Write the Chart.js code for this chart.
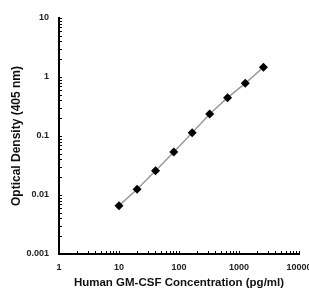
<!DOCTYPE html>
<html>
<head>
<meta charset="utf-8">
<script src="https://cdn.jsdelivr.net/npm/chart.js@4/dist/chart.umd.min.js"></script>
<style>
html,body{margin:0;padding:0;background:#fff;}
#wrap{width:309px;height:291px;position:relative;}
</style>
</head>
<body>
<div id="wrap"><canvas id="c" width="309" height="291"></canvas></div>
<script>
// Data
const concentrations = [10, 20, 40.7, 82, 166, 325, 645, 1270, 2556];
const opticalDensity = [0.0066, 0.0125, 0.0258, 0.0536, 0.114, 0.236, 0.447, 0.78, 1.46];
const xTickValues = [1, 10, 100, 1000, 10000];
const xTickLabels = ['1', '10', '100', '1000', '10000'];
const yTickValues = [0.001, 0.01, 0.1, 1, 10];
const yTickLabels = ['0.001', '0.01', '0.1', '1', '10'];
const xTitle = 'Human GM-CSF Concentration (pg/ml)';
const yTitle = 'Optical Density (405 nm)';

const FONT = "'Liberation Sans', Arial, sans-serif";

const points = concentrations.map((x, i) => ({x: x, y: opticalDensity[i]}));

// draw inward minor/major ticks using the scales
const innerTicks = {
  id: 'innerTicks',
  afterDraw(chart) {
    const ctx = chart.ctx;
    const xs = chart.scales.x, ys = chart.scales.y;
    const ca = chart.chartArea;
    ctx.save();
    ctx.strokeStyle = '#000';
    ctx.lineWidth = 1;
    for (let e = 0; e < 4; e++) {
      for (let m = 1; m <= 10; m++) {
        const v = m * Math.pow(10, e);
        const px = Math.round(xs.getPixelForValue(v)) + 0.5;
        ctx.beginPath();
        ctx.moveTo(px, ca.bottom);
        ctx.lineTo(px, ca.bottom - 3);
        ctx.stroke();
      }
    }
    for (let e = -3; e < 1; e++) {
      for (let m = 1; m <= 10; m++) {
        const v = m * Math.pow(10, e);
        const py = Math.round(ys.getPixelForValue(v)) + 0.5;
        ctx.beginPath();
        ctx.moveTo(ca.left, py);
        ctx.lineTo(ca.left + 3, py);
        ctx.stroke();
      }
    }
    ctx.restore();
  }
};

new Chart(document.getElementById('c'), {
  type: 'scatter',
  data: {
    datasets: [{
      data: points,
      showLine: true,
      borderColor: '#9a9a9a',
      borderWidth: 1.5,
      pointStyle: 'rectRot',
      pointRadius: 4.5,
      pointBackgroundColor: '#000',
      pointBorderColor: '#000',
      pointBorderWidth: 0
    }]
  },
  options: {
    responsive: false,
    animation: false,
    devicePixelRatio: 1,
    layout: { padding: { top: 18, right: 10, left: 0, bottom: 0 } },
    plugins: { legend: { display: false }, tooltip: { enabled: false } },
    scales: {
      x: {
        type: 'logarithmic',
        min: 1, max: 10000,
        afterBuildTicks(scale) { scale.ticks = xTickValues.map(v => ({value: v})); },
        afterFit(scale) { scale.height = 37; scale.paddingLeft = 0; scale.paddingRight = 0; },
        grid: { display: true, drawOnChartArea: false, drawTicks: false },
        border: { display: true, color: '#000', width: 2 },
        ticks: {
          padding: 8,
          maxRotation: 0,
          autoSkip: false,
          color: '#222',
          font: { family: FONT, size: 9, weight: 'bold' },
          callback(value) { const i = xTickValues.indexOf(value); return i >= 0 ? xTickLabels[i] : ''; }
        },
        title: {
          display: true,
          text: xTitle,
          color: '#111',
          font: { family: FONT, size: 11.5, weight: 'bold' },
          padding: { top: 0, bottom: 1 }
        }
      },
      y: {
        type: 'logarithmic',
        min: 0.001, max: 10,
        afterBuildTicks(scale) { scale.ticks = yTickValues.map(v => ({value: v})); },
        afterFit(scale) { scale.width = 59; scale.paddingTop = 0; scale.paddingBottom = 0; },
        grid: { display: true, drawOnChartArea: false, drawTicks: false },
        border: { display: true, color: '#000', width: 2 },
        ticks: {
          padding: 10,
          autoSkip: false,
          color: '#222',
          font: { family: FONT, size: 9, weight: 'bold' },
          callback(value) { const i = yTickValues.indexOf(value); return i >= 0 ? yTickLabels[i] : ''; }
        },
        title: {
          display: true,
          text: yTitle,
          color: '#111',
          font: { family: FONT, size: 12, weight: 'bold' },
          padding: { top: 9, bottom: 0 }
        }
      }
    }
  },
  plugins: [innerTicks]
});
</script>
</body>
</html>
